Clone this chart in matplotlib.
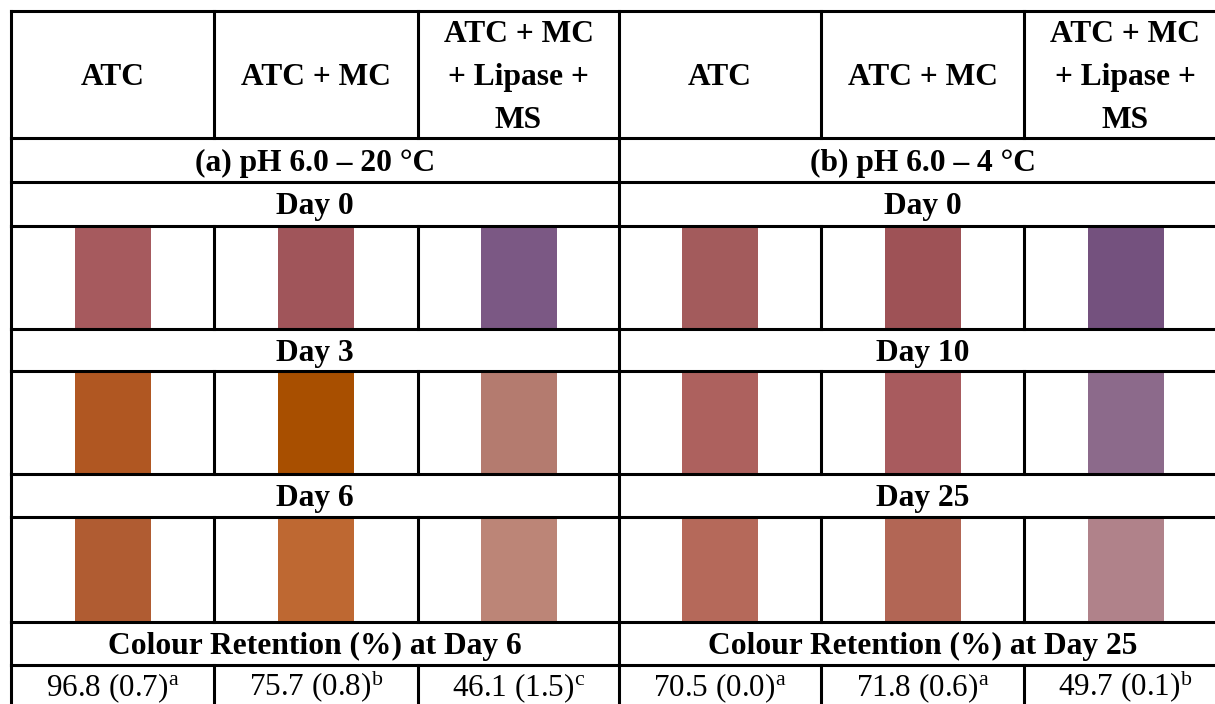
import matplotlib
matplotlib.use("Agg")
import matplotlib.pyplot as plt
from matplotlib.patches import Rectangle

plt.rcParams['font.family'] = ['Liberation Serif', 'DejaVu Serif']
plt.rcParams['mathtext.fontset'] = 'custom'
plt.rcParams['mathtext.rm'] = 'Liberation Serif'
plt.rcParams['mathtext.it'] = 'Liberation Serif:italic'
plt.rcParams['mathtext.bf'] = 'Liberation Serif:bold'

# ---- data ----
treatments = ["ATC", "ATC + MC", "ATC + MC\n+ Lipase +\nMS"]
panels = ["(a) pH 6.0 \u2013 20 \u00b0C", "(b) pH 6.0 \u2013 4 \u00b0C"]
days_a = ["Day 0", "Day 3", "Day 6"]
days_b = ["Day 0", "Day 10", "Day 25"]
colours_a = [["#A65A5E", "#A0555A", "#7B5884"],
             ["#B05722", "#A84F00", "#B47B6F"],
             ["#B05C32", "#BE6832", "#BC8577"]]
colours_b = [["#A35B5C", "#9E5256", "#74517E"],
             ["#AD615E", "#A85B5E", "#8C6A8B"],
             ["#B5695A", "#B26655", "#B0828A"]]
retention_titles = ["Colour Retention (%) at Day 6", "Colour Retention (%) at Day 25"]
retention_a = [96.8, 75.7, 46.1]
sd_a = [0.7, 0.8, 1.5]
letters_a = ["a", "b", "c"]
retention_b = [70.5, 71.8, 49.7]
sd_b = [0.0, 0.6, 0.1]
letters_b = ["a", "a", "b"]

# ---- layout ----
W, H = 1215, 704
fig = plt.figure(figsize=(W / 100, H / 100), dpi=100)
ax = fig.add_axes([0, 0, 1, 1])
ax.set_xlim(0, W)
ax.set_ylim(H, 0)
ax.axis('off')

xs = [11, 214, 418, 619, 821, 1024, 1227]
ys = [11, 138, 182, 226, 329, 371, 474, 517, 622, 665, 706]
lw = 2.2
fs_b = 22.7
fs_r = 22.4

def hline(y, x0=xs[0], x1=W + 5):
    ax.plot([x0, x1], [y, y], color='black', lw=lw, solid_capstyle='projecting')

def vline(x, y0, y1):
    ax.plot([x, x], [y0, y1], color='black', lw=lw, solid_capstyle='projecting')

for y in ys[:-1]:
    hline(y)

full_rows = [(ys[0], ys[1]), (ys[3], ys[4]), (ys[5], ys[6]), (ys[7], ys[8]), (ys[9], ys[10])]
span_rows = [(ys[1], ys[3]), (ys[4], ys[5]), (ys[6], ys[7]), (ys[8], ys[9])]
for y0, y1 in full_rows:
    for x in xs[:-1]:
        vline(x, y0, y1)
for y0, y1 in span_rows:
    for x in (xs[0], xs[3]):
        vline(x, y0, y1)

def cx(i):
    return (xs[i] + xs[i + 1]) / 2

bold = dict(fontweight='bold', fontsize=fs_b, ha='center', va='baseline')

# header
for p in range(2):
    for j, t in enumerate(treatments):
        lines = t.split("\n")
        n = len(lines)
        for k, ln in enumerate(lines):
            base = 85 + (k - (n - 1) / 2) * 42.5
            ax.text(cx(3 * p + j), base, ln, **bold)

# panel titles and day labels
for p, (title, days) in enumerate([(panels[0], days_a), (panels[1], days_b)]):
    mid = (xs[3 * p] + xs[3 * p + 3]) / 2
    ax.text(mid, ys[1] + 33, title, **bold)
    for k, d in enumerate(days):
        ax.text(mid, ys[2 + 2 * k] + 32, d, **bold)
    ax.text(mid, ys[8] + 32, retention_titles[p], **bold)

# swatches
sw = 76
for p, cols in enumerate([colours_a, colours_b]):
    for k, row in enumerate(cols):
        r = 3 + 2 * k
        for j, c in enumerate(row):
            x0 = cx(3 * p + j) - sw / 2
            y0 = ys[r] + 1.5
            h = ys[r + 1] - ys[r] - 3
            ax.add_patch(Rectangle((x0, y0), sw, h, facecolor=c, edgecolor='none', zorder=0))

# retention values
for p, (vals, sds, lets) in enumerate([(retention_a, sd_a, letters_a),
                                       (retention_b, sd_b, letters_b)]):
    for j in range(3):
        s = f"{vals[j]:.1f} ({sds[j]:.1f})" + r"$^{\mathrm{" + lets[j] + "}}$"
        ax.text(cx(3 * p + j), 696, s, fontsize=fs_r, ha='center', va='baseline')

fig.savefig("out.png", dpi=100)
